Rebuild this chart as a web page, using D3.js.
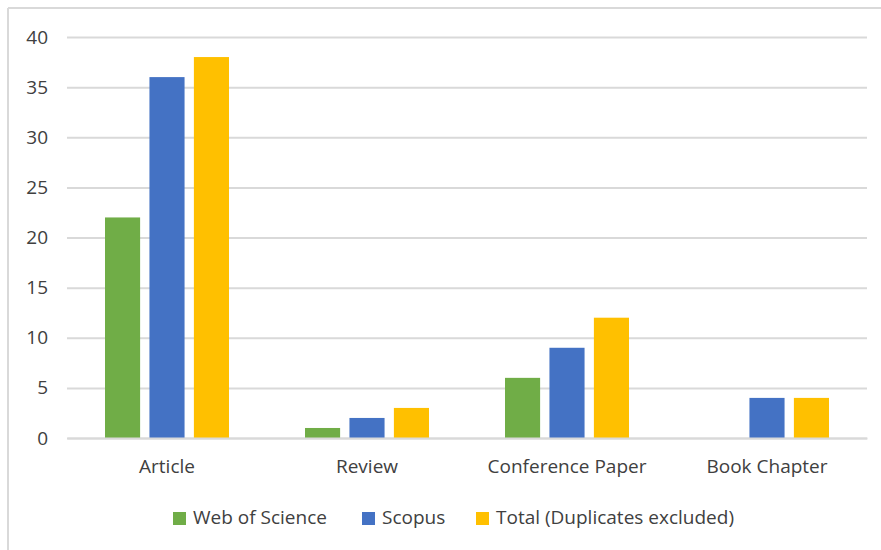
<!DOCTYPE html>
<html><head><meta charset="utf-8">
<script src="https://cdn.jsdelivr.net/npm/d3@7"></script>
<style>body{margin:0;background:#fff}svg{display:block}text{font-family:"Open Sans",sans-serif;fill:#404040}</style>
</head><body>
<script>
const categories = ["Article", "Review", "Conference Paper", "Book Chapter"];
const seriesNames = ["Web of Science", "Scopus", "Total (Duplicates excluded)"];
const webOfScience = [22, 1, 6, 0];
const scopus = [36, 2, 9, 4];
const total = [38, 3, 12, 4];
const yTicks = [0, 5, 10, 15, 20, 25, 30, 35, 40];
const colors = ["#70ad47", "#4472c4", "#ffc000"];

const W = 881, H = 550, FS = 19, TXT = "#404040";
const svg = d3.select("body").append("svg").attr("width", W).attr("height", H);
// chart border (left & top)
svg.append("line").attr("x1", 8).attr("x2", 8).attr("y1", 8).attr("y2", H).attr("stroke", "#d9d9d9").attr("stroke-width", 2);
svg.append("line").attr("x1", 8).attr("x2", W).attr("y1", 8).attr("y2", 8).attr("stroke", "#d9d9d9").attr("stroke-width", 2);

const pLeft = 67, pRight = 867, pTop = 37, pBottom = 438;
const x0 = d3.scaleBand().domain(categories).range([pLeft, pRight]).paddingInner(0.38).paddingOuter(0.19);
const x1 = d3.scaleBand().domain(seriesNames).range([0, x0.bandwidth()]).paddingInner(0.21);
const y = d3.scaleLinear().domain([0, 40]).range([pBottom, pTop]);

const yAxis = d3.axisLeft(y).tickValues(yTicks).tickSize(-(pRight - pLeft)).tickPadding(19);
const gy = svg.append("g").attr("transform", `translate(${pLeft},0)`).call(yAxis);
gy.attr("font-size", FS).attr("font-family", '"Open Sans",sans-serif');
gy.select(".domain").remove();
gy.selectAll(".tick line").attr("stroke", "#d9d9d9").attr("stroke-width", 2);
gy.selectAll(".tick text").attr("fill", TXT);

const data = [webOfScience, scopus, total];
const groups = svg.append("g").selectAll("g").data(categories).join("g")
  .attr("transform", d => `translate(${x0(d)},0)`);
groups.selectAll("rect").data((c, i) => seriesNames.map((s, k) => ({s, v: data[k][i], k})))
  .join("rect")
  .attr("x", d => x1(d.s)).attr("width", x1.bandwidth())
  .attr("y", d => y(d.v)).attr("height", d => y(0) - y(d.v))
  .attr("fill", d => colors[d.k]);

const xAxis = d3.axisBottom(x0).tickSize(0).tickPadding(22);
const gx = svg.append("g").attr("transform", `translate(0,${pBottom})`).call(xAxis);
gx.attr("font-size", FS).attr("font-family", '"Open Sans",sans-serif');
gx.select(".domain").attr("stroke", "#d9d9d9").attr("stroke-width", 2);
gx.selectAll(".tick text").attr("fill", TXT);

// legend
const legendX = [173, 362, 476];
const lg = svg.append("g").attr("font-size", FS);
seriesNames.forEach((s, k) => {
  lg.append("rect").attr("x", legendX[k]).attr("y", 512).attr("width", 13).attr("height", 13).attr("fill", colors[k]);
  lg.append("text").attr("x", legendX[k] + 20).attr("y", 524).attr("fill", TXT).text(s);
});
</script>
</body></html>
